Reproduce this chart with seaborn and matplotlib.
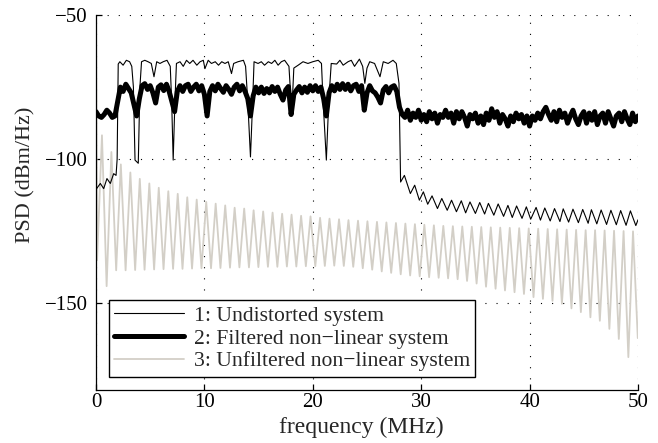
import numpy as np
import matplotlib
matplotlib.use("Agg")
import matplotlib.pyplot as plt
import seaborn as sns

# ---- values (frequency in MHz, PSD in dBm/Hz) ----

# 1: undistorted system
undist_f = [0.00, 0.40, 0.71, 1.01, 1.32, 1.63, 1.85, 1.95, 2.05,
            2.20, 2.50, 2.80, 3.10, 3.30, 3.45, 3.60, 3.90, 4.05, 4.20, 4.50, 4.80,
            5.10, 5.35, 5.60, 5.90, 6.20, 6.55, 6.85, 6.98, 7.12, 7.28, 7.42, 7.75,
            8.05, 8.35, 8.65, 8.95, 9.30, 9.60, 9.90, 10.05, 10.35, 10.65, 11.00,
            11.30, 11.60, 11.90, 12.20, 12.50, 12.70, 13.10, 13.60, 13.80, 14.00,
            14.25, 14.45, 14.58, 14.95, 15.25, 15.55, 15.90, 16.20, 16.50, 16.80,
            17.10, 17.40, 17.80, 18.06, 18.25, 18.65, 19.10, 19.55, 20.00, 20.50,
            20.80, 20.95, 21.25, 21.47, 21.70, 22.20, 22.50, 22.80, 23.25, 23.55,
            23.85, 24.30, 24.60, 24.80, 25.00, 25.25, 25.70, 26.20, 26.50, 26.95,
            27.40, 27.70, 27.95, 28.10,
            28.45, 29.00, 29.40, 29.83, 30.20, 30.60, 31.00, 31.50, 31.90, 32.40,
            32.80, 33.25, 33.70, 34.10, 34.50, 35.00, 35.40, 35.85, 36.20, 36.70,
            37.10, 37.60, 38.00, 38.40, 38.80, 39.30, 39.70, 40.10, 40.60, 41.00,
            41.40, 41.90, 42.30, 42.80, 43.10, 43.60, 44.00, 44.50, 44.90, 45.40,
            45.70, 46.20, 46.60, 47.10, 47.50, 48.00, 48.40, 48.90, 49.30, 49.80,
            50.00]
undist_psd = [-110.5, -108.4, -110.2, -106.7, -108.4, -105.0, -105.6, -100.0, -67.0,
              -66.2, -67.4, -65.7, -66.2, -67.8, -75.0, -100.3, -101.4, -75.0, -66.2, -65.7, -66.2,
              -66.8, -71.4, -66.2, -66.8, -66.2, -65.7, -67.8, -80.0, -100.3, -80.0, -66.8, -66.2,
              -67.8, -65.7, -66.8, -65.7, -67.4, -66.2, -65.7, -68.6, -65.7, -66.8, -66.2,
              -67.4, -66.2, -66.8, -66.2, -70.3, -66.8, -66.2, -65.7, -67.8, -80.0,
              -99.2, -80.0, -66.2, -66.8, -66.2, -67.4, -66.2, -66.8, -65.7, -67.4,
              -66.2, -65.7, -67.8, -84.1, -68.4, -67.4, -66.2, -66.8, -66.2, -65.7,
              -66.8, -80.0, -100.3, -80.0, -66.8, -67.0, -65.7, -67.4, -66.2, -65.7,
              -67.8, -65.3, -67.8, -73.7, -68.4, -66.2, -66.8, -71.4, -66.2, -66.8,
              -65.7, -66.8, -73.7, -107.9,
              -105.6, -111.9, -109.0, -114.2, -111.3, -115.6, -112.7, -117.1, -113.6, -117.7,
              -114.2, -118.2, -114.4, -118.6, -114.8, -118.8, -115.0, -119.0, -115.3, -119.4,
              -115.5, -119.8, -116.0, -120.2, -116.2, -120.5, -116.5, -120.8, -116.7, -121.1,
              -116.9, -121.4, -117.1, -121.6, -117.2, -121.8, -117.3, -122.0, -117.4, -122.2,
              -117.5, -122.4, -117.6, -122.6, -117.7, -122.7, -117.8, -122.9, -117.9, -123.0,
              -121.0]

# 2: filtered non-linear system, one reading every 0.25 MHz from 0 to 50
filt_f = np.arange(0, 50.001, 0.25)
filt_psd = [
    -83.5, -85.0, -85.5, -84.5, -83.0, -84.0, -85.5, -85.0,   # 0 - 1.75
    -80.0, -75.0, -76.5, -74.0, -75.5, -77.0, -81.0, -85.0,   # 2 - 3.75
    -79.0, -74.5, -73.8, -75.8, -74.5, -77.0, -80.5, -75.0,   # 4 - 5.75
    -74.2, -76.2, -74.0, -76.5, -80.0, -83.5, -76.5, -74.5,   # 6 - 7.75
    -76.5, -74.5, -74.0, -76.5, -75.0, -74.0, -76.3, -74.5,   # 8 - 9.75
    -77.5, -85.0, -76.5, -74.5, -76.3, -74.0, -75.5, -76.8,   # 10 - 11.75
    -74.5, -75.8, -77.5, -75.0, -74.0, -76.3, -74.5, -76.5,   # 12 - 13.75
    -79.0, -85.0, -78.0, -75.0, -77.0, -75.0, -77.2, -75.5,   # 14 - 15.75
    -77.0, -74.8, -76.5, -75.0, -77.5, -79.5, -76.0, -74.8,   # 16 - 17.75
    -84.5, -77.5, -76.0, -74.8, -77.0, -75.0, -76.8, -74.5,   # 18 - 19.75
    -76.3, -74.5, -76.5, -75.0, -79.0, -85.0, -77.0, -74.5,   # 20 - 21.75
    -76.3, -74.0, -75.8, -73.8, -75.8, -74.0, -76.3, -74.5,   # 22 - 23.75
    -74.0, -76.5, -74.5, -83.0, -77.0, -74.5, -76.3, -77.0,   # 24 - 25.75
    -78.5, -80.5, -76.0, -74.8, -77.0, -75.0, -74.5, -76.5,   # 26 - 27.75
    -82.0, -84.5, -85.5, -83.0, -86.5, -84.0, -85.5, -83.0,   # 28 - 29.75
    -86.5, -84.5, -87.0, -83.5, -86.0, -84.0, -87.5, -84.5,   # 30 - 31.75
    -85.5, -83.0, -85.5, -84.0, -87.5, -83.5, -86.0, -83.5,   # 32 - 33.75
    -85.5, -88.5, -84.5, -86.0, -84.0, -87.5, -85.0, -88.0,   # 34 - 35.75
    -84.0, -86.5, -82.5, -85.5, -83.5, -87.5, -84.5, -86.0,   # 36 - 37.75
    -88.5, -85.0, -87.0, -84.0, -86.0, -84.5, -87.5, -85.0,   # 38 - 39.75
    -88.5, -85.0, -86.5, -84.0, -86.0, -83.5, -82.0, -84.5,   # 40 - 41.75
    -86.5, -83.5, -87.0, -83.0, -85.5, -84.0, -87.5, -85.0,   # 42 - 43.75
    -83.0, -86.0, -88.0, -85.0, -83.5, -87.5, -84.0, -86.5,   # 44 - 45.75
    -83.5, -88.0, -85.0, -84.0, -87.5, -83.5, -86.0, -88.5,   # 46 - 47.75
    -85.0, -84.0, -87.0, -83.5, -86.0, -88.0, -84.0, -87.0,   # 48 - 49.75
    -85.0]                                                    # 50

# 3: unfiltered non-linear system, sidelobe nulls and sidelobe peaks
unfilt_start = (0.0, -53.0)
null_f = [0.10, 0.98, 1.86, 2.73, 3.61, 4.48, 5.36, 6.23, 7.11, 7.98, 8.86,
          9.73, 10.61, 11.48, 12.36, 13.23, 14.11, 14.98, 15.86, 16.73, 17.61,
          18.48, 19.36, 20.23, 21.11, 21.98, 22.86, 23.73, 24.61, 25.48, 26.36,
          27.23, 28.11, 28.98, 29.86, 30.73, 31.61, 32.48, 33.36, 34.23, 35.11,
          35.98, 36.86, 37.73, 38.61, 39.48, 40.36, 41.23, 42.11, 42.98, 43.86,
          44.73, 45.61, 46.48, 47.36, 48.23, 49.11, 49.98]
null_psd = [-135.0, -144.0, -138.5, -138.5, -138.4, -138.3, -138.2, -138.1, -138.0, -138.0, -137.9,
            -137.8, -137.8, -137.7, -137.6, -137.5, -137.5, -137.4, -137.3, -137.3, -137.2,
            -137.2, -137.1, -137.1, -137.0, -136.9, -137.0, -137.3, -137.8, -138.3, -138.9,
            -139.4, -139.9, -140.3, -140.6, -140.9, -141.1, -141.3, -141.6, -142.2, -143.1,
            -144.2, -144.9, -145.5, -146.1, -146.7, -147.8, -148.4, -149.1, -150.1, -151.7,
            -153.0, -154.8, -156.0, -158.8, -162.3, -168.6, -162.0]
peak_f = [0.55, 1.42, 2.29, 3.17, 4.04, 4.92, 5.79, 6.67, 7.54, 8.42, 9.29,
          10.17, 11.04, 11.92, 12.79, 13.67, 14.54, 15.42, 16.29, 17.17, 18.04,
          18.92, 19.79, 20.67, 21.54, 22.42, 23.29, 24.17, 25.04, 25.92, 26.79,
          27.67, 28.54, 29.42, 30.29, 31.17, 32.04, 32.92, 33.79, 34.67, 35.54,
          36.42, 37.29, 38.17, 39.04, 39.92, 40.79, 41.67, 42.54, 43.42, 44.29,
          45.17, 46.04, 46.92, 47.79, 48.67, 49.54]
peak_psd = [-91.7, -97.5, -101.8, -104.6, -106.8, -108.4, -109.9, -111.1, -112.0, -113.2, -114.0,
            -114.8, -115.4, -116.0, -116.8, -117.1, -117.7, -118.1, -118.5, -118.9, -119.2,
            -119.6, -119.8, -120.3, -120.6, -120.8, -121.1, -121.3, -121.5, -121.7, -121.9,
            -122.1, -122.3, -122.5, -122.7, -122.9, -123.1, -123.2, -123.3, -123.4, -123.5,
            -123.6, -123.7, -123.8, -123.9, -124.0, -124.1, -124.2, -124.3, -124.4, -124.5,
            -124.6, -124.6, -124.7, -124.8, -124.9, -125.0]

labels = ["1: Undistorted system",
          "2: Filtered non\u2212linear system",
          "3: Unfiltered non\u2212linear system"]

# walk the grey trace null -> peak -> null ...
unfilt_f = [unfilt_start[0]]
unfilt_psd = [unfilt_start[1]]
for i in range(len(null_f)):
    unfilt_f.append(null_f[i])
    unfilt_psd.append(null_psd[i])
    if i < len(peak_f):
        unfilt_f.append(peak_f[i])
        unfilt_psd.append(peak_psd[i])

sns.set_style("white")
plt.rcParams["font.family"] = ["Liberation Serif", "DejaVu Serif"]
plt.rcParams["axes.unicode_minus"] = True

fig = plt.figure(figsize=(6.58, 4.43), dpi=100)
ax = fig.add_axes([96 / 658, 1 - 390 / 443, 542 / 658, 375 / 443])

grey = "#d3cfc7"
sns.lineplot(x=unfilt_f, y=unfilt_psd, ax=ax, color=grey, linewidth=1.3,
             estimator=None, sort=False, zorder=2)
sns.lineplot(x=filt_f, y=filt_psd, ax=ax, color="black", linewidth=3.6,
             estimator=None, sort=False, zorder=3)
sns.lineplot(x=undist_f, y=undist_psd, ax=ax, color="black", linewidth=0.8,
             estimator=None, sort=False, zorder=4)

ax.set_xlim(0, 50)
ax.set_ylim(-180, -50)
ax.set_xticks([0, 10, 20, 30, 40, 50])
ax.set_yticks([-150, -100, -50])

# matlab style dotted grid, no box
ax.grid(True, color="black", linestyle=(0, (1, 9)), linewidth=0.8)
for side in ["top", "right"]:
    ax.spines[side].set_visible(False)
for side in ["left", "bottom"]:
    ax.spines[side].set_color("black")
    ax.spines[side].set_linewidth(0.9)
ax.tick_params(direction="in", length=4, width=0.9, labelsize=15, colors="black",
               top=False, right=False, left=True, bottom=True)
ax.tick_params(axis="x", pad=2.5)
ax.tick_params(axis="y", pad=6)

ax.set_xlabel("frequency (MHz)", fontsize=17)
ax.xaxis.set_label_coords(0.49, -0.071)
ax.set_ylabel("PSD (dBm/Hz)", fontsize=16)
ax.yaxis.set_label_coords(-0.112, 0.575)

lines = ax.get_lines()
handles = [lines[2], lines[1], lines[0]]
leg = ax.legend(handles, labels, loc="lower left", bbox_to_anchor=(0.024, 0.035),
                borderaxespad=0, fontsize=15.6, frameon=True, fancybox=False,
                edgecolor="black", handlelength=3.2, handletextpad=0.45,
                labelspacing=0.12, borderpad=0.25)
leg.get_frame().set_linewidth(1.0)
leg.get_frame().set_alpha(1)

fig.savefig("out.png", dpi=100)
